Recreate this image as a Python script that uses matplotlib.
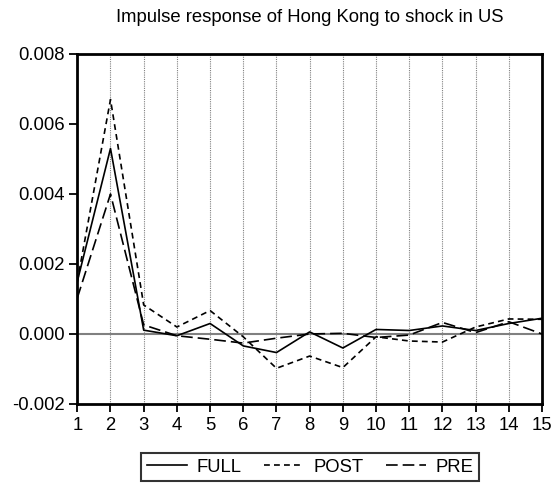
import matplotlib
matplotlib.use("Agg")
import matplotlib.pyplot as plt

# Periods and impulse responses
periods = list(range(1, 16))
full = [0.0015, 0.0053, 0.00011, -0.00005, 0.0003, -0.00034, -0.00053,
        0.00006, -0.0004, 0.00013, 0.0001, 0.00023, 0.0001, 0.0003, 0.00045]
post = [0.0015, 0.0067, 0.00083, 0.0002, 0.00067, -0.00008, -0.00098,
        -0.00063, -0.00096, -0.00008, -0.0002, -0.00023, 0.0002, 0.00043, 0.00042]
pre = [0.00103, 0.0040, 0.00026, -0.00005, -0.00015, -0.00026, -0.00012,
       0.0, 0.00002, -0.0001, -0.00003, 0.00033, 0.00004, 0.00035, 0.0]

title = "Impulse response of Hong Kong to shock in US"
y_ticks = [-0.002, 0.000, 0.002, 0.004, 0.006, 0.008]

plt.rcParams['font.family'] = ['Liberation Sans', 'DejaVu Sans']
fs = 13.3

fig = plt.figure(figsize=(5.59, 4.87), dpi=100)
ax = fig.add_axes([77.3 / 559, 1 - 404 / 487, (542 - 77.3) / 559, (404 - 54) / 487])

# vertical dotted grid at each period
for p in periods[1:-1]:
    ax.axvline(p, color='#808080', linestyle=(0, (1, 1)), linewidth=0.8, zorder=1)
ax.axhline(0, color='#808080', linewidth=1.5, zorder=1)

ax.plot(periods, full, color='black', linewidth=1.2, linestyle='-', label='FULL', zorder=3)
ax.plot(periods, post, color='black', linewidth=1.2, linestyle=(0, (3.5, 2.5)), label='POST', zorder=3)
ax.plot(periods, pre, color='black', linewidth=1.2, linestyle=(0, (7, 3)), label='PRE', zorder=3)

ax.set_xlim(1, 15)
ax.set_ylim(-0.002, 0.008)
ax.set_xticks(periods)
ax.set_xticklabels([str(p) for p in periods])
ax.set_yticks(y_ticks)
ax.set_yticklabels([f"{v:.3f}" for v in y_ticks])
ax.tick_params(axis='both', direction='out', length=6, width=1.3, labelsize=fs,
               colors='black', pad=3)

for s in ax.spines.values():
    s.set_linewidth(2)
    s.set_color('black')

fig.text(310 / 559, 1 - 18 / 487, title, ha='center', va='center', fontsize=fs)

leg = fig.legend(loc='center', bbox_to_anchor=(310 / 559, 1 - 467 / 487), ncol=3,
                 frameon=True, fancybox=False, edgecolor='black', fontsize=fs,
                 handlelength=2.2, columnspacing=1.2, handletextpad=0.5,
                 borderpad=0.3)
leg.get_frame().set_linewidth(1.5)

fig.savefig("out.png", dpi=100)
